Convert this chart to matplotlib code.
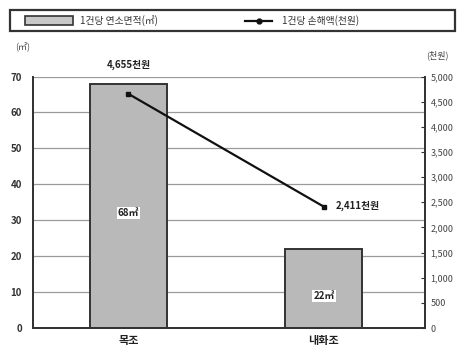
import matplotlib
matplotlib.use("Agg")
import matplotlib.pyplot as plt
from matplotlib.patches import Rectangle
from matplotlib.lines import Line2D
from matplotlib.ticker import FuncFormatter

plt.rcParams['font.family'] = ['Noto Sans CJK KR', 'DejaVu Sans']

categories = ["목조", "내화조"]
area_per_case = [68, 22]          # 1건당 연소면적 (㎡)
area_labels = ["68㎡", "22㎡"]
loss_per_case = [4655, 2411]      # 1건당 손해액 (천원)
loss_labels = ["4,655천원", "2,411천원"]
left_ticks = list(range(0, 71, 10))
right_ticks = list(range(0, 5001, 500))

fig = plt.figure(figsize=(4.61, 3.47), dpi=100)
W, H = 461, 347
ax = fig.add_axes([33 / W, 1 - 328 / H, 392 / W, (328 - 76.5) / H])
ax2 = ax.twinx()

x = list(range(len(categories)))
ax.set_xlim(-0.488, 1.517)
ax.set_ylim(0, 70)
ax2.set_ylim(0, 5000)

ax.set_axisbelow(True)
for t in left_ticks[1:]:
    ax.axhline(t, color="#9a9a9a", lw=0.9, zorder=0)

bars = ax.bar(x, area_per_case, width=0.394, color="#b9b9b9",
              edgecolor="#333333", linewidth=1.4, zorder=2)
for xi, v, lab in zip(x, area_per_case, area_labels):
    ax.text(xi, v / 2 - 2, lab, ha="center", va="center",
            fontsize=7, fontweight="bold", color="#222222", zorder=4,
            bbox=dict(facecolor="white", edgecolor="none", pad=0.8))

ax2.plot(x, loss_per_case, color="#111111", lw=1.6, marker="s",
         markersize=3.5, zorder=5)
ax2.text(x[0], loss_per_case[0] + 570, loss_labels[0], ha="center",
         va="center", fontsize=7, fontweight="bold", color="#222222",
         clip_on=False)
ax2.text(x[1] + 0.06, loss_per_case[1] + 20, loss_labels[1], ha="left",
         va="center", fontsize=7, fontweight="bold", color="#222222")

ax.set_xticks(x)
ax.set_xticklabels(categories, fontsize=8, fontweight="bold", color="#222222")
ax.tick_params(axis="x", length=0, pad=4)
ax.set_yticks(left_ticks)
ax.set_yticklabels([str(t) for t in left_ticks], fontsize=7,
                   fontweight="bold", color="#333333")
ax.tick_params(axis="y", length=0, pad=8)
ax2.set_yticks(right_ticks)
ax2.yaxis.set_major_formatter(FuncFormatter(lambda v, p: f"{int(v):,}"))
ax2.tick_params(axis="y", length=3, direction="in", pad=4, labelsize=6.5,
                colors="#333333")
for lbl in ax2.get_yticklabels():
    lbl.set_color("#444444")

for a in (ax, ax2):
    a.spines["top"].set_visible(False)
    for s in ("left", "right", "bottom"):
        a.spines[s].set_color("#333333")
        a.spines[s].set_linewidth(1.3)

fig.text(15 / W, 1 - 47 / H, "(㎡)", fontsize=6.5, color="#444444",
         ha="left", va="center")
fig.text(426 / W, 1 - 55 / H, "(천원)", fontsize=6.5, color="#444444",
         ha="left", va="center")

# legend frame
fig.patches.append(Rectangle((10 / W, 1 - 31 / H), 445 / W, 21 / H,
                             transform=fig.transFigure, facecolor="white",
                             edgecolor="#333333", linewidth=1.6))
fig.patches.append(Rectangle((25 / W, 1 - 25 / H), 48 / W, 9 / H,
                             transform=fig.transFigure, facecolor="#c8c8c8",
                             edgecolor="#333333", linewidth=1.2))
fig.text(80 / W, 1 - 20.5 / H, "1건당 연소면적(㎡)", fontsize=7,
         color="#333333", ha="left", va="center")
fig.lines.append(Line2D([245 / W, 272 / W], [1 - 20.5 / H, 1 - 20.5 / H],
                        transform=fig.transFigure, color="#111111", lw=1.6))
fig.lines.append(Line2D([258.5 / W], [1 - 20.5 / H],
                        transform=fig.transFigure, color="#111111",
                        marker="o", markersize=3.5))
fig.text(282 / W, 1 - 20.5 / H, "1건당 손해액(천원)", fontsize=7,
         color="#333333", ha="left", va="center")

fig.savefig("out.png", dpi=100)
